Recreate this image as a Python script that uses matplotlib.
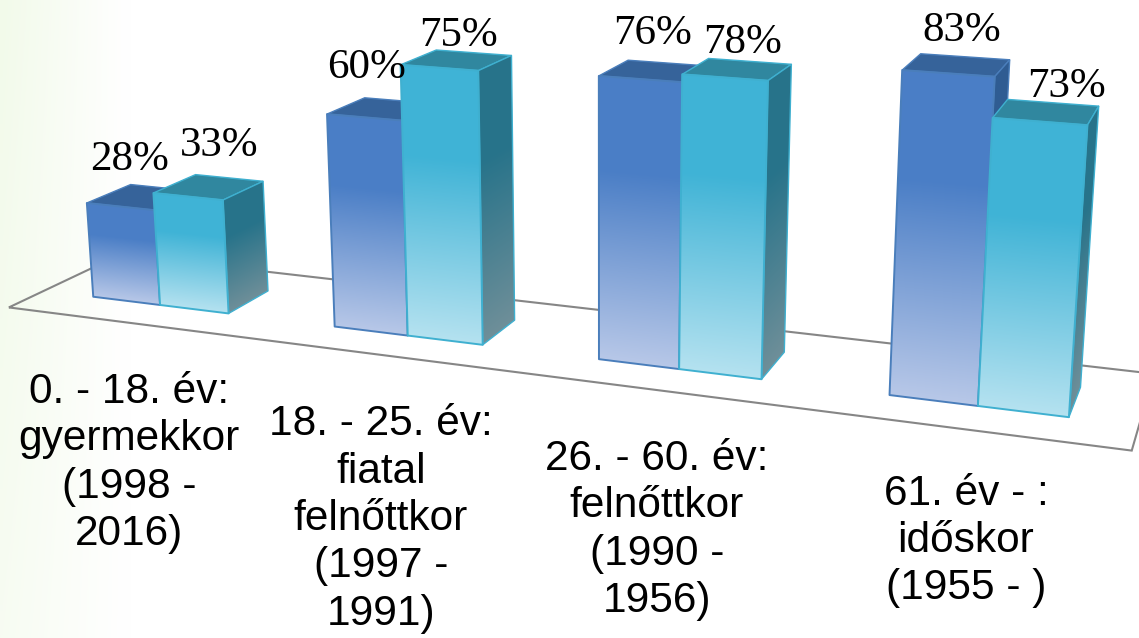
import matplotlib
matplotlib.use('Agg')
import matplotlib.pyplot as plt
from matplotlib.patches import Polygon
import numpy as np

categories = ['0. - 18. év:\ngyermekkor\n(1998 -\n2016)',
              '18. - 25. év:\nfiatal\nfelnőttkor\n(1997 -\n1991)',
              '26. - 60. év:\nfelnőttkor\n(1990 -\n1956)',
              '61. év - :\nidőskor\n(1955 - )']
series_a = [28, 60, 76, 83]
series_b = [33, 75, 78, 73]

# where the text sits, in pixels
cat_label_pos = [(129, 463), (381, 519), (657, 530), (966, 541)]
a_label_pos = [(130, 160), (367, 68), (653, 34), (962, 31)]
b_label_pos = [(219, 146), (458, 36), (743, 43), (1067, 87)]

# camera of the 3d chart: (position along axis, depth, value) -> pixel
STEP = 3.5
camera_points = [
    (0, 0, 0, 93, 297), (1, 0, 0, 160, 305), (2, 0, 0, 229, 314),
    (3.5, 0, 0, 334, 327), (4.5, 0, 0, 408, 336), (5.5, 0, 0, 483, 345),
    (7, 0, 0, 598, 359), (8, 0, 0, 679, 369), (9, 0, 0, 761, 379),
    (10.5, 0, 0, 889, 395), (11.5, 0, 0, 979, 406), (12.5, 0, 0, 1069, 417),
    (0, 0, 28, 87, 203), (1, 0, 33, 153, 192), (2, 0, 33, 224, 199),
    (3.5, 0, 60, 327, 112), (4.5, 0, 75, 401, 66), (5.5, 0, 75, 479, 71),
    (7, 0, 76, 598, 75), (8, 0, 78, 681, 77), (9, 0, 78, 769, 82),
    (10.5, 0, 83, 902, 68), (11.5, 0, 83, 994, 75), (11.5, 0, 73, 992, 119),
    (12.5, 0, 73, 1089, 126),
    (2, 1, 0, 268, 292), (5.5, 1, 0, 515, 321), (9, 1, 0, 785, 353),
    (12.5, 1, 0, 1080, 385),
    (2, 1, 33, 263, 181), (5.5, 1, 75, 511, 56), (9, 1, 78, 791, 66),
    (12.5, 1, 73, 1099, 107), (11.5, 1, 83, 1011, 58), (0, 1, 28, 131, 184),
    (3.5, 1, 60, 365, 97), (7, 1, 76, 628, 60), (10.5, 1, 83, 921, 52),
    (1, 1, 33, 195, 174), (4.5, 1, 75, 436, 50), (8, 1, 78, 709, 60),
    (11.5, 1, 73, 1006, 100),
]


def fit_camera(points):
    rows, rhs = [], []
    for x, y, z, u, v in points:
        rows.append([x, y, z, 1, 0, 0, 0, 0, -u * x, -u * y, -u * z])
        rows.append([0, 0, 0, 0, x, y, z, 1, -v * x, -v * y, -v * z])
        rhs += [u, v]
    m = np.linalg.lstsq(np.array(rows, float), np.array(rhs, float), rcond=None)[0]
    return np.append(m, 1).reshape(3, 4)


cam = fit_camera(camera_points)


def proj(x, y, z):
    p = cam @ np.array([x, y, z, 1.0])
    return p[0] / p[2], p[1] / p[2]


def hexrgb(c):
    return np.array(matplotlib.colors.to_rgb(c))


def face(ax, corners, c_top, c_bot, edge, z, lw=1.4, solid=0.33):
    # corners: top-left, top-right, bottom-right, bottom-left
    tl, tr, br, bl = corners
    xs = [p[0] for p in corners]
    ys = [p[1] for p in corners]
    x0, x1 = int(min(xs)) - 1, int(max(xs)) + 2
    y0, y1 = int(min(ys)) - 1, int(max(ys)) + 2
    gx, gy = np.meshgrid(np.arange(x0, x1) + 0.5, np.arange(y0, y1) + 0.5)
    ytop = tl[1] + (gx - tl[0]) * (tr[1] - tl[1]) / (tr[0] - tl[0])
    ybot = bl[1] + (gx - bl[0]) * (br[1] - bl[1]) / (br[0] - bl[0])
    t = np.clip(((gy - ytop) / (ybot - ytop) - solid) / (1 - solid), 0, 1)[..., None]
    img = hexrgb(c_top) * (1 - t) + hexrgb(c_bot) * t
    im = ax.imshow(img, extent=(x0, x1, y1, y0), aspect='auto', interpolation='bilinear', zorder=z)
    clip = Polygon(corners, closed=True, transform=ax.transData)
    im.set_clip_path(clip)
    ax.add_patch(Polygon(corners, closed=True, fill=False, ec=edge, lw=lw, joinstyle='round', zorder=z + 0.1))


def bar(ax, x, value, st, z):
    w = 1
    ftl, ftr = proj(x, 0, value), proj(x + w, 0, value)
    fbl, fbr = proj(x, 0, 0), proj(x + w, 0, 0)
    btl, btr = proj(x, 1, value), proj(x + w, 1, value)
    bbr = proj(x + w, 1, 0)
    ax.add_patch(Polygon([btl, btr, ftr, ftl], closed=True, fc=st['top'], ec=st['edge'], lw=1.0, zorder=z))
    face(ax, [ftr, btr, bbr, fbr], st['side0'], st['side1'], st['edge'], z + 1, lw=1.0)
    face(ax, [ftl, ftr, fbr, fbl], st['front0'], st['front1'], st['edge'], z + 2)


style_a = dict(top='#36639A', side0='#2F5C92', side1='#6F8BA8', front0='#4A7EC6',
               front1='#B8C8E8', edge='#4A7EBB')
style_b = dict(top='#30879F', side0='#27738A', side1='#6F8F99', front0='#3FB3D6',
               front1='#B5E2F0', edge='#3FB0D0')

fig = plt.figure(figsize=(11.39, 6.38), dpi=100)
ax = fig.add_axes([0, 0, 1, 1])
ax.axis('off')

# pale green wash on the left edge of the slide
gx, gy = np.meshgrid(np.linspace(0, 1, 230), np.linspace(0, 1, 128))
fade = (np.clip(1 - gx / 0.11, 0, 1) * (1 - 0.4 * gy))[..., None]
bg = np.array([1, 1, 1]) * (1 - fade) + hexrgb('#F2FAEA') * fade
ax.imshow(bg, extent=(0, 1139, 638, 0), aspect='auto', interpolation='bilinear', zorder=0)

# floor
floor = [proj(-0.75, -0.75, 0), proj(13.25, -0.75, 0), proj(13.25, 1.75, 0), proj(-0.75, 1.75, 0)]
ax.add_patch(Polygon(floor, closed=True, fill=False, ec='#868686', lw=1.5, zorder=1))

for i in range(len(series_a)):
    bar(ax, i * STEP, series_a[i], style_a, 2 + 8 * i)
    bar(ax, i * STEP + 1, series_b[i], style_b, 6 + 8 * i)

for i in range(len(categories)):
    ax.text(cat_label_pos[i][0], cat_label_pos[i][1], categories[i], ha='center', va='center',
            family='Liberation Sans', fontsize=30.5, color='black', linespacing=1.24, zorder=50)
    ax.text(a_label_pos[i][0], a_label_pos[i][1], f'{series_a[i]}%', ha='center', va='center',
            family='Liberation Serif', fontsize=31, color='black', zorder=50)
    ax.text(b_label_pos[i][0], b_label_pos[i][1], f'{series_b[i]}%', ha='center', va='center',
            family='Liberation Serif', fontsize=31, color='black', zorder=50)

ax.set_xlim(0, 1139)
ax.set_ylim(638, 0)
fig.savefig('out.png', dpi=100)
